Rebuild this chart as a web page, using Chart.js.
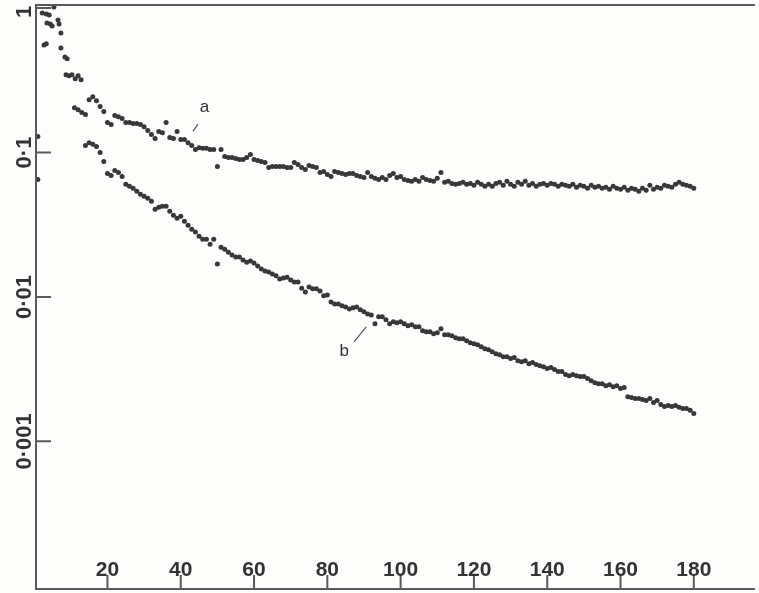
<!DOCTYPE html>
<html>
<head>
<meta charset="utf-8">
<script src="https://cdn.jsdelivr.net/npm/chart.js@4.4.1/dist/chart.umd.min.js"></script>
<style>
  html, body { margin: 0; padding: 0; background: #fdfdfb; }
  #wrap { width: 759px; height: 593px; }
</style>
</head>
<body>
<div id="wrap"><canvas id="myChart" width="759" height="593"></canvas></div>
<script>
// axis ranges (x in time units, y on a log scale)
const xMin = 0.5, xMax = 196.7;
const yMin = 9.5e-5, yMax = 1.05;

const xTicks = [20, 40, 60, 80, 100, 120, 140, 160, 180];
const yTicks = [1, 0.1, 0.01, 0.001];
const yTickLabels = ['1', '0·1', '0·01', '0·001'];

// first few scattered points near the origin (both curves)
const earlyX = [1, 1, 2.2, 3.3, 4.1, 5.4, 3.5, 4.4, 4.9, 6.5, 6.8, 7.3, 2.7, 3.3, 7.3, 8.4, 9.0, 8.7, 9.5, 10.3, 11.2, 12.0, 12.8];
const earlyY = [0.129, 0.0651, 0.924, 0.909, 0.895, 1.016, 0.788, 0.776, 0.751, 0.826, 0.776, 0.672, 0.556, 0.565, 0.530, 0.459, 0.445, 0.345, 0.340, 0.345, 0.324, 0.340, 0.319];

// curve a, one point per unit starting at x = 11
const aStart = 11;
const aY = [
  0.204, 0.198, 0.189, 0.183, 0.232, 0.243, 0.228, 0.208, 0.192, 0.161,
  0.156, 0.180, 0.177, 0.172, 0.161, 0.161, 0.159, 0.159, 0.156, 0.151,
  0.142, 0.133, 0.125, 0.140, 0.137, 0.161, 0.127, 0.125, 0.140, 0.123,
  0.123, 0.117, 0.112, 0.105, 0.108, 0.107, 0.107, 0.105, 0.105, 0.0801,
  0.105, 0.0938, 0.0924, 0.0924, 0.0909, 0.0895, 0.0895, 0.0924, 0.0969, 0.0895,
  0.0881, 0.0867, 0.0853, 0.0788, 0.0801, 0.0801, 0.0801, 0.0801, 0.0788, 0.0788,
  0.0853, 0.0826, 0.0788, 0.0763, 0.0814, 0.0801, 0.0788, 0.0728, 0.0740, 0.0705,
  0.0683, 0.0740, 0.0728, 0.0716, 0.0705, 0.0716, 0.0716, 0.0694, 0.0683, 0.0672,
  0.0728, 0.0683, 0.0662, 0.0651, 0.0672, 0.0651, 0.0694, 0.0716, 0.0672, 0.0683,
  0.0651, 0.0641, 0.0631, 0.0651, 0.0631, 0.0672, 0.0651, 0.0641, 0.0631, 0.0662,
  0.0728, 0.0621, 0.0631, 0.0611, 0.0602, 0.0611, 0.0621, 0.0602, 0.0611, 0.0592,
  0.0621, 0.0602, 0.0583, 0.0602, 0.0583, 0.0611, 0.0621, 0.0592, 0.0631, 0.0602,
  0.0583, 0.0621, 0.0602, 0.0631, 0.0592, 0.0611, 0.0583, 0.0602, 0.0611, 0.0592,
  0.0611, 0.0602, 0.0583, 0.0602, 0.0592, 0.0583, 0.0602, 0.0574, 0.0592, 0.0583,
  0.0565, 0.0592, 0.0574, 0.0583, 0.0565, 0.0574, 0.0556, 0.0583, 0.0565, 0.0556,
  0.0574, 0.0547, 0.0565, 0.0556, 0.0538, 0.0565, 0.0547, 0.0592, 0.0556, 0.0574,
  0.0565, 0.0592, 0.0583, 0.0574, 0.0602, 0.0621, 0.0602, 0.0592, 0.0583, 0.0565
];

// curve b, one point per unit starting at x = 14
const bStart = 14;
const bY = [
  0.112, 0.117, 0.114, 0.110, 0.100, 0.0867, 0.0716,
  0.0694, 0.0751, 0.0728, 0.0683, 0.0602, 0.0583, 0.0565, 0.0538, 0.0513, 0.0497,
  0.0482, 0.0459, 0.0405, 0.0418, 0.0424, 0.0424, 0.0392, 0.0368, 0.0351, 0.0362,
  0.0334, 0.0314, 0.0294, 0.0281, 0.0263, 0.0251, 0.0251, 0.0232, 0.0251, 0.0169,
  0.0221, 0.0214, 0.0204, 0.0195, 0.0189, 0.0189, 0.0180, 0.0174, 0.0177, 0.0172,
  0.0164, 0.0156, 0.0151, 0.0149, 0.0144, 0.0140, 0.0133, 0.0135, 0.0137, 0.0131,
  0.0127, 0.0127, 0.0115, 0.0108, 0.0117, 0.0114, 0.0114, 0.0110, 0.0102, 0.0103,
  0.00924, 0.00895, 0.00895, 0.00867, 0.00853, 0.00826, 0.00840, 0.00853, 0.00814, 0.00788,
  0.00763, 0.00751, 0.00651, 0.00728, 0.00728, 0.00694, 0.00651, 0.00672, 0.00662, 0.00672,
  0.00651, 0.00631, 0.00641, 0.00621, 0.00621, 0.00583, 0.00574, 0.00574, 0.00556, 0.00565,
  0.00602, 0.00547, 0.00547, 0.00538, 0.00522, 0.00513, 0.00513, 0.00497, 0.00482, 0.00474,
  0.00467, 0.00452, 0.00438, 0.00431, 0.00418, 0.00404, 0.00398, 0.00386, 0.00386, 0.00374,
  0.00380, 0.00362, 0.00356, 0.00362, 0.00345, 0.00351, 0.00340, 0.00334, 0.00329, 0.00319,
  0.00324, 0.00314, 0.00304, 0.00304, 0.00290, 0.00285, 0.00290, 0.00285, 0.00281, 0.00281,
  0.00272, 0.00263, 0.00255, 0.00251, 0.00251, 0.00243, 0.00247, 0.00239, 0.00243, 0.00232,
  0.00236, 0.00204, 0.00201, 0.00198, 0.00198, 0.00195, 0.00192, 0.00198, 0.00186, 0.00192,
  0.00180, 0.00174, 0.00177, 0.00174, 0.00177, 0.00172, 0.00169, 0.00169, 0.00164, 0.00156
];

// curve labels with their short leader lines (data units)
const curveLabels = [
  { text: 'a', x: 46.5, y: 0.205, from: [43.3, 0.140], to: [44.7, 0.157] },
  { text: 'b', x: 84.6, y: 0.00420, from: [87.3, 0.00489], to: [90.6, 0.00621] }
];

const dotColor = '#383838';
const inkColor = '#333333';

const framePlugin = {
    id: 'frame',
    beforeDraw(chart) {
        const c = chart.ctx;
        c.save();
        c.fillStyle = '#fdfdfb';
        c.fillRect(0, 0, chart.width, chart.height);
        c.restore();
    },
    afterDraw(chart) {
        const c = chart.ctx;
        const a = chart.chartArea;
        const x = chart.scales.x;
        const y = chart.scales.y;
        c.save();
        // frame: left, top, bottom
        c.strokeStyle = '#5a5a5a';
        c.lineWidth = 2;
        c.beginPath();
        c.moveTo(a.left, a.bottom + 1);
        c.lineTo(a.left, a.top);
        c.lineTo(a.right, a.top);
        c.moveTo(a.left, a.bottom);
        c.lineTo(a.right, a.bottom);
        c.stroke();

        // y ticks pointing inward + rotated labels
        c.beginPath();
        yTicks.forEach(v => {
            const py = y.getPixelForValue(v);
            c.moveTo(a.left, py);
            c.lineTo(a.left + 15, py);
        });
        c.stroke();
        c.fillStyle = inkColor;
        c.font = 'bold 22px "Liberation Sans", Arial, sans-serif';
        c.textAlign = 'center';
        c.textBaseline = 'alphabetic';
        yTicks.forEach((v, i) => {
            const py = Math.max(y.getPixelForValue(v), a.top + 7);
            c.save();
            c.translate(a.left - 5, py);
            c.rotate(-Math.PI / 2);
            c.fillText(yTickLabels[i], 0, 0);
            c.restore();
        });

        // x ticks pointing up from the bottom edge, labels inside
        c.beginPath();
        xTicks.forEach(v => {
            const px = x.getPixelForValue(v);
            c.moveTo(px, a.bottom);
            c.lineTo(px, a.bottom - 14);
        });
        c.stroke();
        c.font = 'bold 21px "Liberation Sans", Arial, sans-serif';
        xTicks.forEach(v => {
            c.fillText(String(v), x.getPixelForValue(v), a.bottom - 13);
        });

        // curve labels
        c.font = '17px "Liberation Sans", Arial, sans-serif';
        c.lineWidth = 1.2;
        c.strokeStyle = '#555';
        curveLabels.forEach(l => {
            c.textBaseline = 'middle';
            c.fillText(l.text, x.getPixelForValue(l.x), y.getPixelForValue(l.y));
            c.beginPath();
            c.moveTo(x.getPixelForValue(l.from[0]), y.getPixelForValue(l.from[1]));
            c.lineTo(x.getPixelForValue(l.to[0]), y.getPixelForValue(l.to[1]));
            c.stroke();
        });
        c.restore();
    }
};

function toPoints(xs, ys) {
    return ys.map((v, i) => ({ x: xs[i], y: v }));
}

function regularPoints(start, ys) {
    return ys.map((v, i) => ({ x: start + i, y: v }));
}

const dotStyle = {
    pointRadius: 2.5,
    pointBackgroundColor: dotColor,
    pointBorderWidth: 0,
    showLine: false,
    clip: false
};

const ctx = document.getElementById('myChart').getContext('2d');
const myChart = new Chart(ctx, {
    type: 'scatter',
    data: {
        datasets: [
            Object.assign({ label: 'early', data: toPoints(earlyX, earlyY) }, dotStyle),
            Object.assign({ label: 'a', data: regularPoints(aStart, aY) }, dotStyle),
            Object.assign({ label: 'b', data: regularPoints(bStart, bY) }, dotStyle)
        ]
    },
    options: {
        responsive: false,
        animation: false,
        layout: { padding: { left: 36, top: 5, right: 2, bottom: 2 } },
        plugins: {
            legend: { display: false },
            tooltip: { enabled: false }
        },
        scales: {
            x: { type: 'linear', display: false, min: xMin, max: xMax, bounds: 'data' },
            y: { type: 'logarithmic', display: false, min: yMin, max: yMax, bounds: 'data' }
        }
    },
    plugins: [framePlugin]
});
</script>
</body>
</html>
